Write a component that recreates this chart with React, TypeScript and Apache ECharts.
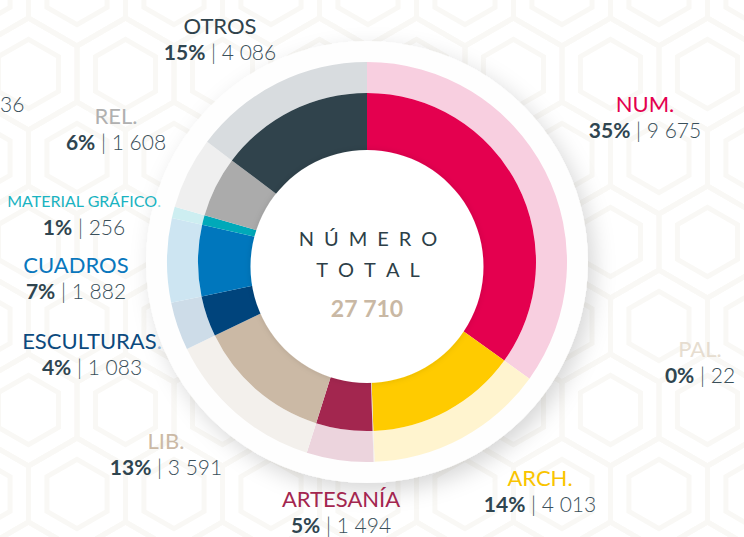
import React, { useEffect, useRef } from "react";
import * as echarts from "echarts";

const names = ["NUM.", "ARCH.", "PAL.", "ARTESANÍA", "LIB.", "ESCULTURAS.", "CUADROS", "MATERIAL GRÁFICO.", "REL.", "OTROS"];
const values = [9675, 4013, 22, 1494, 3591, 1083, 1882, 256, 1608, 4086];
const darkColors = ["#e4004f", "#ffcb00", "#e3d9cb", "#a3264f", "#cbb9a5", "#00447c", "#0077bd", "#00a9b9", "#ababab", "#30434c"];
const lightColors = ["#f8cfe0", "#fff4cf", "#f3efe9", "#ecd4dd", "#f3f0ec", "#cddce8", "#cde5f2", "#cdeef1", "#efefef", "#d8dcdf"];
const nameColors = ["#e4004f", "#f9c400", "#e6ddd0", "#a3264f", "#cbb9a5", "#0c4a7e", "#0a77bd", "#1ab3c1", "#b0b0b0", "#30434c"];
const dotColors = ["", "", "", "", "", "#9fb9d2", "", "#8fd8df", "", ""];
// label layout (centre x, centre y of the name line), font size of name
const labelPos: [number, number, number][] = [
  [645, 103, 22],
  [540, 477, 22],
  [700, 348, 22],
  [341, 498, 22],
  [166, 440, 22],
  [92, 340, 22],
  [76, 264, 22],
  [84, 200, 16],
  [116, 115, 22],
  [220, 25, 22],
];
const centerTitle = ["NÚMERO", "TOTAL"];

const fmt = (n: number) => String(n).replace(/\B(?=(\d{3})+(?!\d))/g, " ");

function hexPattern(): any[] {
  const out: any[] = [];
  const R = 56;
  const w = Math.sqrt(3) * R;
  const stroke = { stroke: "#f9f8f5", lineWidth: 5, fill: "none" };
  for (let row = -1; row < 8; row++) {
    for (let col = -1; col < 9; col++) {
      const x = col * w + (row % 2 ? w / 2 : 0) - 20;
      const y = row * R * 1.5 - 10;
      for (const r of [R, R * 0.62]) {
        const pts: number[][] = [];
        for (let k = 0; k < 6; k++) {
          const a = (Math.PI / 3) * k + Math.PI / 6;
          pts.push([x + r * Math.cos(a), y + r * Math.sin(a)]);
        }
        out.push({ type: "polygon", z: -10, silent: true, shape: { points: pts }, style: stroke });
      }
    }
  }
  return out;
}

export default function App() {
  const ref = useRef<HTMLDivElement>(null);
  useEffect(() => {
    if (!ref.current) return;
    const chart = echarts.init(ref.current, undefined, { renderer: "svg" });
    const total = values.reduce((a, b) => a + b, 0);
    const cx = 367;
    const cy = 262;
    const font = "Lato, 'Open Sans', sans-serif";

    const labels: any[] = [];
    names.forEach((n, i) => {
      const [x, y, fs] = labelPos[i];
      const pct = Math.round((values[i] / total) * 100);
      const hasDot = !!dotColors[i];
      labels.push({
        type: "text",
        x,
        y,
        z: 100,
        style: {
          text: hasDot ? `{n|${n.slice(0, -1)}}{d|.}` : `{n|${n}}`,
          align: "center",
          verticalAlign: "middle",
          rich: {
            n: { fontFamily: font, fontSize: fs, fontWeight: "normal", fill: nameColors[i] },
            d: { fontFamily: font, fontSize: fs, fontWeight: "normal", fill: dotColors[i] || nameColors[i] },
          },
        },
      });
      labels.push({
        type: "text",
        x,
        y: y + 26,
        z: 100,
        style: {
          text: `{p|${pct}%}{s| | }{v|${fmt(values[i])}}`,
          align: "center",
          verticalAlign: "middle",
          rich: {
            p: { fontFamily: font, fontSize: 21, fontWeight: "bold", fill: "#2f4550" },
            s: { fontFamily: font, fontSize: 21, fontWeight: 300, fill: "#3a4f5a" },
            v: { fontFamily: font, fontSize: 21, fontWeight: 300, fill: "#3a4f5a" },
          },
        },
      });
    });

    const spaced = (s: string) => s.split("").join("\u2002");

    chart.setOption({
      animation: false,
      backgroundColor: "#ffffff",
      series: [
        {
          type: "pie",
          silent: true,
          z: 1,
          center: [cx, cy],
          radius: [0, 221],
          label: { show: false },
          labelLine: { show: false },
          itemStyle: {
            color: "#fefefe",
            shadowBlur: 22,
            shadowColor: "rgba(0,0,0,0.16)",
            shadowOffsetX: 6,
            shadowOffsetY: 8,
          },
          data: [{ value: 1, name: "bg" }],
        },
        {
          type: "pie",
          silent: true,
          z: 2,
          center: [cx, cy],
          radius: [169, 200],
          startAngle: 90,
          clockwise: true,
          label: { show: false },
          labelLine: { show: false },
          data: names.map((n, i) => ({ name: n, value: values[i], itemStyle: { color: lightColors[i] } })),
        },
        {
          type: "pie",
          silent: true,
          z: 3,
          center: [cx, cy],
          radius: [108, 169],
          startAngle: 90,
          clockwise: true,
          label: { show: false },
          labelLine: { show: false },
          data: names.map((n, i) => ({ name: n, value: values[i], itemStyle: { color: darkColors[i] } })),
        },
        {
          type: "pie",
          silent: true,
          z: 4,
          center: [cx, cy + 4.5],
          radius: [0, 116.5],
          label: { show: false },
          labelLine: { show: false },
          itemStyle: { color: "#ffffff", shadowBlur: 6, shadowColor: "rgba(0,0,0,0.12)" },
          data: [{ value: 1, name: "hole" }],
        },
      ],
      graphic: [
        { type: "group", z: -10, silent: true, children: hexPattern() },
        ...labels,
        {
          type: "text",
          x: 0,
          y: 103,
          z: 100,
          style: {
            text: "36",
            align: "left",
            verticalAlign: "middle",
            fontFamily: font,
            fontSize: 21,
            fontWeight: 300,
            fill: "#3a4f5a",
          },
        },
        {
          type: "text",
          x: cx + 1,
          y: 238,
          z: 100,
          style: {
            text: spaced(centerTitle[0]),
            align: "center",
            verticalAlign: "middle",
            fontFamily: font,
            fontSize: 20,
            fontWeight: "normal",
            fill: "#2d3f48",
          },
        },
        {
          type: "text",
          x: cx + 1,
          y: 269,
          z: 100,
          style: {
            text: spaced(centerTitle[1]),
            align: "center",
            verticalAlign: "middle",
            fontFamily: font,
            fontSize: 20,
            fontWeight: "normal",
            fill: "#2d3f48",
          },
        },
        {
          type: "text",
          x: cx,
          y: 308,
          z: 100,
          style: {
            text: fmt(total),
            align: "center",
            verticalAlign: "middle",
            fontFamily: font,
            fontSize: 23,
            fontWeight: "bold",
            fill: "#c9b8a4",
          },
        },
      ],
    });
    return () => chart.dispose();
  }, []);
  return (
    <div
      ref={ref}
      style={{ position: "fixed", left: 0, top: 0, width: 744, height: 537 }}
    />
  );
}
